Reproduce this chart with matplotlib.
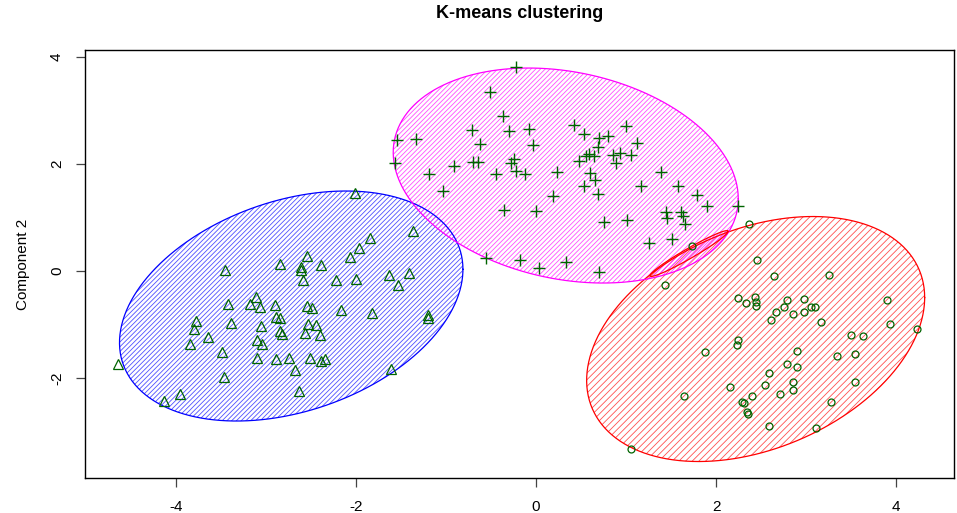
import numpy as np
import matplotlib

matplotlib.use("Agg")
import matplotlib.pyplot as plt

plt.rcParams["font.family"] = ["Liberation Sans", "DejaVu Sans"]
plt.rcParams["hatch.linewidth"] = 0.6

# cluster 1 (circles, red ellipse)
c1_x = [2.37, 1.73, 2.46, 2.64, 3.25, 1.43, 2.24, 2.33, 2.43, 2.44, 2.44, 2.79, 2.76, 2.98, 2.67, 2.61, 2.86,
        2.98, 3.05, 3.10, 3.17, 3.90, 3.93, 4.23, 3.50, 3.63, 2.24, 2.23, 1.88, 2.90, 3.34, 3.54, 2.79, 2.90,
        2.59, 2.86, 2.86, 2.54, 3.54, 2.16, 2.40, 2.71, 1.64, 2.29, 2.31, 2.34, 2.35, 3.28, 2.59, 3.11, 1.06]
c1_y = [0.87, 0.47, 0.21, -0.09, -0.08, -0.26, -0.50, -0.59, -0.48, -0.57, -0.65, -0.54, -0.67, -0.52, -0.77,
        -0.92, -0.80, -0.77, -0.68, -0.67, -0.95, -0.55, -0.99, -1.08, -1.19, -1.21, -1.28, -1.38, -1.52, -1.50,
        -1.58, -1.56, -1.74, -1.80, -1.91, -2.08, -2.22, -2.13, -2.07, -2.17, -2.34, -2.30, -2.34, -2.44, -2.46,
        -2.63, -2.68, -2.45, -2.90, -2.94, -3.33]

# cluster 2 (triangles, blue ellipse)
c2_x = [-2.01, -1.37, -1.84, -1.97, -2.07, -2.54, -2.84, -2.61, -2.61, -2.39, -2.59, -2.22, -2.00, -1.63, -1.41,
        -1.53, -3.46, -3.11, -3.18, -3.07, -3.42, -2.90, -2.55, -2.49, -2.17, -1.82, -1.20, -1.20, -3.78, -3.80,
        -3.39, -2.89, -2.84, -3.06, -2.53, -2.44, -2.84, -2.82, -2.57, -2.40, -3.65, -3.84, -3.10, -3.05, -3.49,
        -3.10, -2.89, -2.74, -2.51, -2.39, -2.34, -2.68, -1.61, -3.47, -2.63, -4.64, -3.96, -4.13]
c2_y = [1.46, 0.75, 0.62, 0.43, 0.27, 0.29, 0.13, 0.07, 0.02, 0.11, -0.17, -0.16, -0.15, -0.07, -0.03, -0.27,
        0.02, -0.49, -0.62, -0.67, -0.62, -0.64, -0.65, -0.69, -0.72, -0.78, -0.82, -0.88, -0.93, -1.09, -0.97,
        -0.86, -0.87, -1.03, -0.99, -1.00, -1.13, -1.18, -1.16, -1.20, -1.23, -1.37, -1.29, -1.36, -1.52, -1.63,
        -1.65, -1.63, -1.62, -1.68, -1.64, -1.85, -1.83, -1.98, -2.25, -1.74, -2.29, -2.43]

# cluster 3 (plus signs, magenta ellipse)
c3_x = [-0.22, -0.51, -0.37, -0.71, -0.30, -0.08, -0.62, -0.03, -1.54, -1.33, -1.57, -0.91, -1.19, -0.70, -0.64,
        -0.25, -0.28, -0.22, -0.12, -0.44, 0.23, -1.03, 0.19, -0.36, 0.00, 0.42, 0.53, 0.70, 0.80, 1.00, 1.12,
        0.69, 0.59, 0.64, 0.56, 0.48, 0.85, 0.93, 1.05, 0.89, 0.60, 0.65, 0.53, 0.69, 1.17, 1.39, 1.58, 1.79,
        1.90, 2.24, 0.75, 1.01, 1.44, 1.45, 1.61, 1.63, 1.66, 1.25, 1.51, -0.56, -0.18, 0.03, 0.33, 0.70]
c3_y = [3.82, 3.35, 2.90, 2.64, 2.61, 2.66, 2.37, 2.36, 2.45, 2.47, 2.02, 1.97, 1.81, 2.03, 2.03, 2.09, 2.02,
        1.87, 1.82, 1.81, 1.86, 1.49, 1.40, 1.14, 1.13, 2.73, 2.56, 2.49, 2.53, 2.71, 2.40, 2.32, 2.19, 2.15,
        2.15, 2.06, 2.17, 2.20, 2.16, 2.01, 1.84, 1.70, 1.59, 1.44, 1.59, 1.85, 1.58, 1.43, 1.21, 1.21, 0.92,
        0.95, 1.11, 0.99, 1.11, 1.03, 0.88, 0.53, 0.59, 0.24, 0.21, 0.06, 0.17, -0.02]

# ellipses: center x, center y, var x, var y, cov xy
ell_cx = [2.44, -2.72, 0.33, 1.70]
ell_cy = [-1.271, -0.654, 1.785, 0.327]
ell_vx = [3.526, 3.640, 3.674, 0.1883]
ell_vy = [5.243, 4.621, 4.037, 0.1830]
ell_cxy = [1.454, 1.308, -0.831, 0.1796]
ell_edge = ["#FF0000", "#0000FF", "#FF00FF", "#FF0000"]
ell_hatch_col = ["#FF5050", "#5050FF", "#FF50FF", "#FF40FF"]
ell_hatch = ["/////", "///////", "///////", "////////"]

x_ticks = [-4, -2, 0, 2, 4]
y_ticks = [-2, 0, 2, 4]


def ellipse_points(cx, cy, vx, vy, cxy, n=300):
    L = np.linalg.cholesky(np.array([[vx, cxy], [cxy, vy]]))
    t = np.linspace(0, 2 * np.pi, n)
    pts = L @ np.vstack([np.cos(t), np.sin(t)])
    return cx + pts[0], cy + pts[1]


fig = plt.figure(figsize=(9.57, 5.13), dpi=100)
ax = fig.add_axes([0.0893, 0.0682, 0.9076, 0.8343])

for i in range(len(ell_cx)):
    ex, ey = ellipse_points(ell_cx[i], ell_cy[i], ell_vx[i], ell_vy[i], ell_cxy[i])
    ax.fill(ex, ey, facecolor="none", edgecolor=ell_hatch_col[i], linewidth=0, hatch=ell_hatch[i], zorder=1)
    ax.plot(ex, ey, color=ell_edge[i], linewidth=0.9, zorder=2)

ax.plot(c1_x, c1_y, "o", mfc="none", mec="#006400", ms=5, mew=0.9, zorder=3)
ax.plot(c2_x, c2_y, "^", mfc="none", mec="#006400", ms=7, mew=0.9, zorder=3)
ax.plot(c3_x, c3_y, "+", color="#006400", ms=9, mew=1.0, zorder=3)

ax.set_xlim(-5.006, 4.644)
ax.set_ylim(-3.869, 4.131)
ax.set_xticks(x_ticks)
ax.set_xticklabels([str(v) for v in x_ticks])
ax.set_yticks(y_ticks)
ax.set_yticklabels([str(v) for v in y_ticks], rotation=90, va="center")
ax.tick_params(length=6.5, width=0.9, color="#444444", labelsize=11, pad=9)
for s in ax.spines.values():
    s.set_linewidth(1.0)

ax.set_ylabel("Component 2", fontsize=11, labelpad=14)
fig.text(0.5427, 1 - 14 / 513, "K-means clustering", ha="center", va="center", fontsize=13, fontweight="bold")

fig.savefig("out.png", dpi=100)
